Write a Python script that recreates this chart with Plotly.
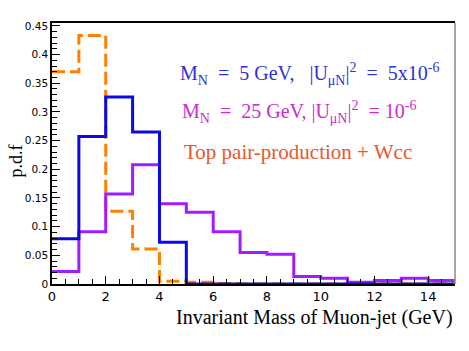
import plotly.graph_objects as go

# bin edges of the histograms (GeV)
bin_edges = list(range(0, 16))

# p.d.f per 1 GeV bin
mn5_vals = [0.079, 0.257, 0.326, 0.265, 0.073, 0, 0, 0, 0, 0, 0, 0, 0, 0, 0]
mn25_vals = [0.022, 0.091, 0.157, 0.208, 0.140, 0.125, 0.091, 0.055, 0.052,
             0.013, 0.010, 0.003, 0.006, 0.010, 0.006]
bkg_vals = [0.370, 0.433, 0.127, 0.061, 0.005, 0.003, 0.001, 0, 0, 0, 0, 0, 0, 0, 0]

x_ticks = [0, 2, 4, 6, 8, 10, 12, 14]

NBSP = '\u00a0'


def step(vals):
    # repeat last value so the 'hv' step closes on the last edge
    return vals + [vals[-1]]


fig = go.Figure()

fig.add_trace(go.Scatter(x=bin_edges, y=step(bkg_vals), mode='lines', line_shape='hv',
                         line=dict(color='#ff8000', width=3, dash='13px,5px'),
                         name='Top pair-production + Wcc'))
fig.add_trace(go.Scatter(x=bin_edges, y=step(mn25_vals), mode='lines', line_shape='hv',
                         line=dict(color='#a31cff', width=3), name='MN = 25 GeV'))
fig.add_trace(go.Scatter(x=bin_edges, y=step(mn5_vals), mode='lines', line_shape='hv',
                         line=dict(color='#0a0ae6', width=3), name='MN = 5 GeV'))

sp = NBSP * 2
label_blue = ('M<sub>N</sub>' + sp + '=' + sp + '5 GeV,' + NBSP * 3 + '|U<sub>μN</sub>|<sup>2</sup>'
              + sp + '=' + sp + '5x10<sup>-6</sup>')
label_purple = ('M<sub>N</sub>' + sp + '=' + sp + '25 GeV, |U<sub>μN</sub>|<sup>2</sup>'
                + sp + '= 10<sup>-6</sup>')
label_orange = 'Top pair-production + Wcc'

serif = 'Liberation Serif, Times New Roman, serif'
sans = 'DejaVu Sans, Arial'

# the page body adds an 8px offset, so the figure is 8px smaller and shifted margins
fig.update_layout(
    width=461, height=343,
    margin=dict(l=44, r=14, t=12, b=67),
    plot_bgcolor='white',
    paper_bgcolor='white',
    showlegend=False,
    xaxis=dict(range=[0, 15], tickvals=x_ticks, ticks='inside', ticklen=8, tickwidth=1,
               tickcolor='black', showline=True, linecolor='black', linewidth=1.5,
               mirror=True, showgrid=False, zeroline=False,
               tickfont=dict(family=sans, size=13, color='black'),
               minor=dict(dtick=0.5, ticks='inside', ticklen=5, tickcolor='black')),
    yaxis=dict(range=[0, 0.455], dtick=0.05, ticks='inside', ticklen=8, tickwidth=1,
               tickcolor='black', showline=True, linecolor='black', linewidth=1.5,
               showgrid=False, zeroline=False,
               tickfont=dict(family=sans, size=10.5, color='black'),
               minor=dict(dtick=0.01, ticks='inside', ticklen=5, tickcolor='black')),
    annotations=[
        dict(text='Invariant Mass of Muon-jet (GeV)', xref='paper', yref='paper',
             x=1, y=-0.129, xanchor='right', yanchor='middle', showarrow=False,
             font=dict(family=serif, size=20, color='black')),
        dict(text='p.d.f', xref='paper', yref='paper', x=-0.089, y=0.47,
             xanchor='center', yanchor='middle', textangle=-90, showarrow=False,
             font=dict(family=serif, size=18, color='black')),
        dict(text=label_blue, xref='paper', yref='paper', x=0.312, y=0.803,
             xanchor='left', yanchor='middle', showarrow=False,
             font=dict(family=serif, size=20, color='#3030d8')),
        dict(text=label_purple, xref='paper', yref='paper', x=0.317, y=0.659,
             xanchor='left', yanchor='middle', showarrow=False,
             font=dict(family=serif, size=20, color='#cc2ccc')),
        dict(text=label_orange, xref='paper', yref='paper', x=0.322, y=0.504,
             xanchor='left', yanchor='middle', showarrow=False,
             font=dict(family=serif, size=21, color='#e8582c')),
    ],
    shapes=[
        dict(type='line', xref='paper', yref='paper', x0=1, x1=1, y0=0, y1=1,
             line=dict(color='#888888', width=1.5)),
    ],
)

fig.write_html("out.html")
